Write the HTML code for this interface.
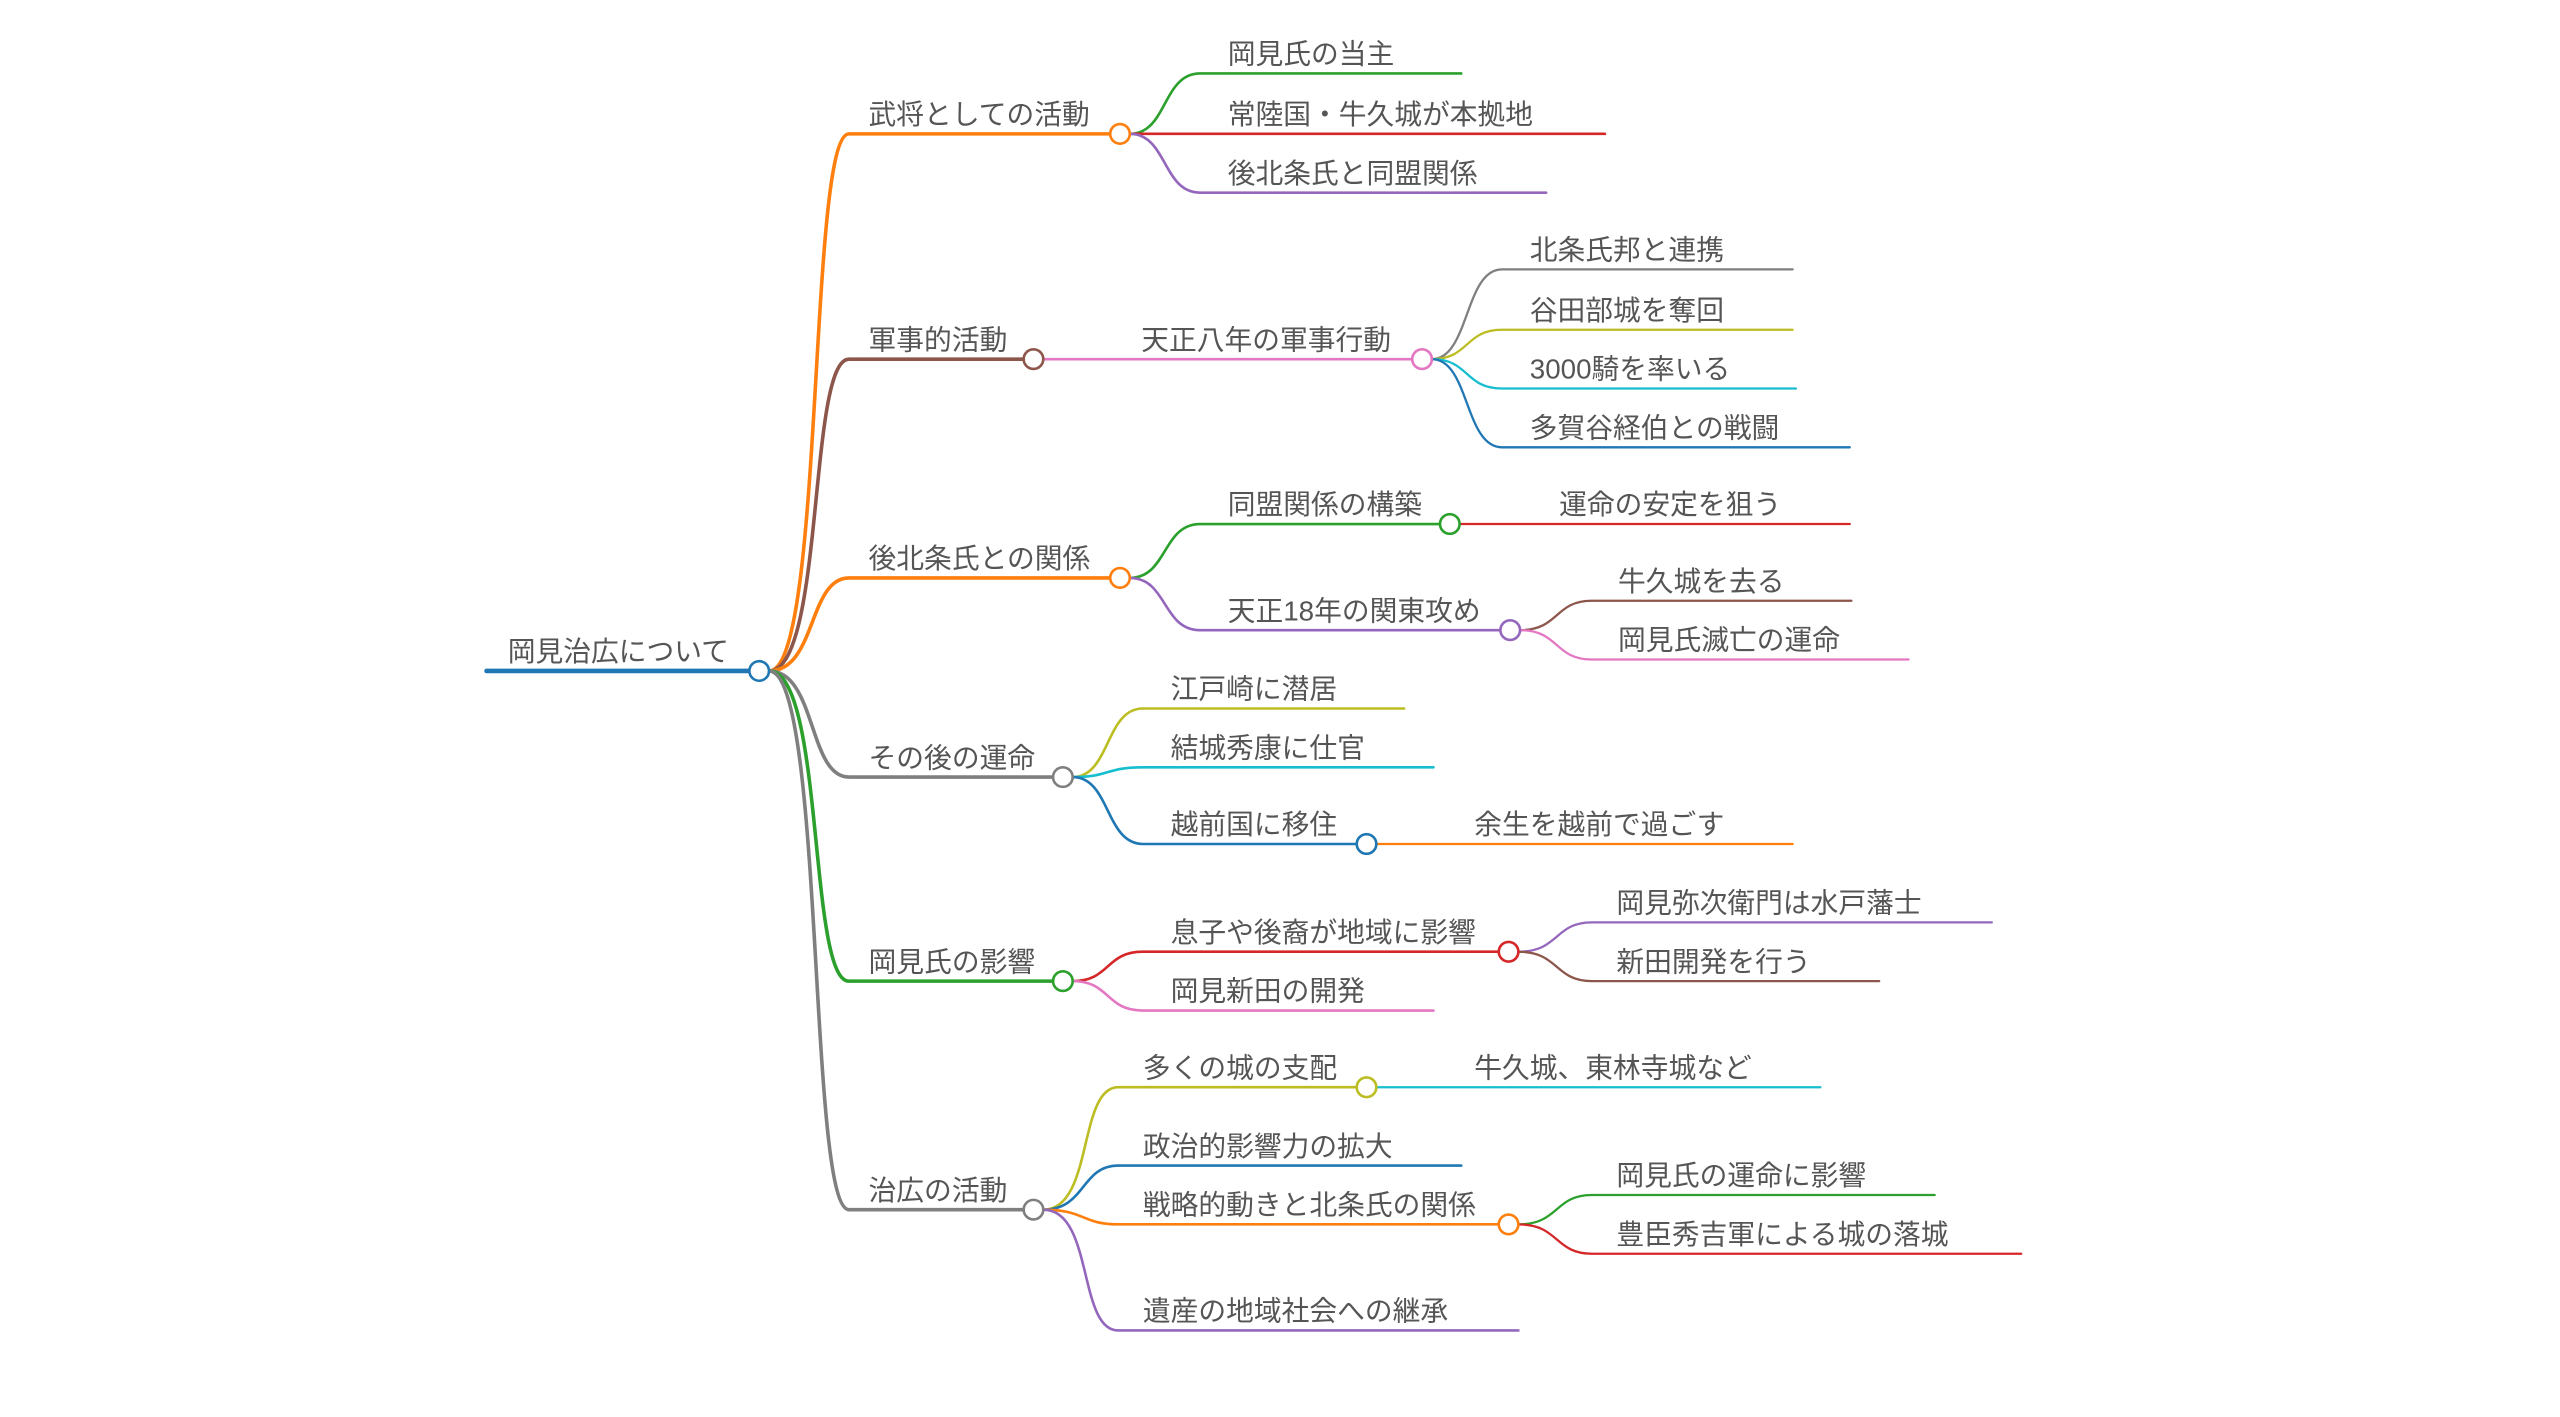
<!DOCTYPE html>
<html><head><meta charset="utf-8"><style>
html,body{margin:0;padding:0;background:#fff;}
svg{display:block;}
text{font-family:"Liberation Sans","Noto Sans CJK JP",sans-serif;font-size:17px;fill:#555;}
</style></head><body>
<svg width="2560" height="1417" viewBox="0 0 1568 868" preserveAspectRatio="none" xmlns="http://www.w3.org/2000/svg">
<g fill="none" stroke-linecap="round">
<!-- root -->
<path d="M298,411 L459,411" stroke="#1f77b4" stroke-width="2.8"/>
<!-- level 1 -->
<path d="M471,411 C505,411 495,82 520,82 L680,82" stroke="#ff7f0e" stroke-width="2.2"/>
<path d="M471,411 C505,411 495,220 520,220 L627,220" stroke="#8c564b" stroke-width="2.2"/>
<path d="M471,411 C500,411 495,354 520,354 L680,354" stroke="#ff7f0e" stroke-width="2.2"/>
<path d="M471,411 C500,411 495,476 520,476 L645,476" stroke="#7f7f7f" stroke-width="2.2"/>
<path d="M471,411 C505,411 495,601 520,601 L645,601" stroke="#2ca02c" stroke-width="2.2"/>
<path d="M471,411 C505,411 495,741 520,741 L627,741" stroke="#7f7f7f" stroke-width="2.2"/>
<!-- 武将 -->
<path d="M692,82 C715,82 712,45 735,45 L895,45" stroke="#2ca02c" stroke-width="1.6"/>
<path d="M692,82 L983,82" stroke="#d62728" stroke-width="1.6"/>
<path d="M692,82 C715,82 712,118 735,118 L947,118" stroke="#9467bd" stroke-width="1.6"/>
<!-- 軍事 -->
<path d="M639,220 L865,220" stroke="#e377c2" stroke-width="1.6"/>
<path d="M877,220 C900,220 897,165 920,165 L1098,165" stroke="#7f7f7f" stroke-width="1.4"/>
<path d="M877,220 C900,220 897,202 920,202 L1098,202" stroke="#bcbd22" stroke-width="1.4"/>
<path d="M877,220 C900,220 897,238 920,238 L1100,238" stroke="#17becf" stroke-width="1.4"/>
<path d="M877,220 C900,220 897,274 920,274 L1133,274" stroke="#1f77b4" stroke-width="1.4"/>
<!-- 後北条 -->
<path d="M692,354 C715,354 712,321 735,321 L882,321" stroke="#2ca02c" stroke-width="1.6"/>
<path d="M894,321 L1133,321" stroke="#d62728" stroke-width="1.4"/>
<path d="M692,354 C715,354 712,386 735,386 L919,386" stroke="#9467bd" stroke-width="1.6"/>
<path d="M931,386 C955,386 952,368 975,368 L1134,368" stroke="#8c564b" stroke-width="1.4"/>
<path d="M931,386 C955,386 952,404 975,404 L1169,404" stroke="#e377c2" stroke-width="1.4"/>
<!-- その後 -->
<path d="M657,476 C680,476 677,434 700,434 L860,434" stroke="#bcbd22" stroke-width="1.6"/>
<path d="M657,476 C680,476 677,470 700,470 L878,470" stroke="#17becf" stroke-width="1.6"/>
<path d="M657,476 C680,476 677,517 700,517 L831,517" stroke="#1f77b4" stroke-width="1.6"/>
<path d="M843,517 L1098,517" stroke="#ff7f0e" stroke-width="1.4"/>
<!-- 影響 -->
<path d="M657,601 C680,601 677,583 700,583 L918,583" stroke="#d62728" stroke-width="1.6"/>
<path d="M657,601 C680,601 677,619 700,619 L878,619" stroke="#e377c2" stroke-width="1.6"/>
<path d="M930,583 C955,583 952,565 975,565 L1220,565" stroke="#9467bd" stroke-width="1.4"/>
<path d="M930,583 C955,583 952,601 975,601 L1151,601" stroke="#8c564b" stroke-width="1.4"/>
<!-- 治広 -->
<path d="M639,741 C670,741 660,666 685,666 L831,666" stroke="#bcbd22" stroke-width="1.6"/>
<path d="M843,666 L1115,666" stroke="#17becf" stroke-width="1.4"/>
<path d="M639,741 C665,741 662,714 685,714 L895,714" stroke="#1f77b4" stroke-width="1.6"/>
<path d="M639,741 C665,741 662,750 685,750 L918,750" stroke="#ff7f0e" stroke-width="1.6"/>
<path d="M639,741 C670,741 660,815 685,815 L930,815" stroke="#9467bd" stroke-width="1.6"/>
<path d="M930,750 C955,750 952,732 975,732 L1185,732" stroke="#2ca02c" stroke-width="1.4"/>
<path d="M930,750 C955,750 952,768 975,768 L1238,768" stroke="#d62728" stroke-width="1.4"/>
</g>
<g fill="#fff" stroke-width="1.6">
<circle cx="465" cy="411" r="6" stroke="#1f77b4"/>
<circle cx="686" cy="82" r="6" stroke="#ff7f0e"/>
<circle cx="633" cy="220" r="6" stroke="#8c564b"/>
<circle cx="871" cy="220" r="6" stroke="#e377c2"/>
<circle cx="686" cy="354" r="6" stroke="#ff7f0e"/>
<circle cx="888" cy="321" r="6" stroke="#2ca02c"/>
<circle cx="925" cy="386" r="6" stroke="#9467bd"/>
<circle cx="651" cy="476" r="6" stroke="#7f7f7f"/>
<circle cx="837" cy="517" r="6" stroke="#1f77b4"/>
<circle cx="651" cy="601" r="6" stroke="#2ca02c"/>
<circle cx="924" cy="583" r="6" stroke="#d62728"/>
<circle cx="633" cy="741" r="6" stroke="#7f7f7f"/>
<circle cx="837" cy="666" r="6" stroke="#bcbd22"/>
<circle cx="924" cy="750" r="6" stroke="#ff7f0e"/>
</g>
<g>
<text x="311" y="405">岡見治広について</text>
<text x="532" y="76">武将としての活動</text>
<text x="752" y="39">岡見氏の当主</text>
<text x="752" y="76">常陸国・牛久城が本拠地</text>
<text x="752" y="112">後北条氏と同盟関係</text>
<text x="532" y="214">軍事的活動</text>
<text x="699" y="214">天正八年の軍事行動</text>
<text x="937" y="159">北条氏邦と連携</text>
<text x="937" y="196">谷田部城を奪回</text>
<text x="937" y="232">3000騎を率いる</text>
<text x="937" y="268">多賀谷経伯との戦闘</text>
<text x="532" y="348">後北条氏との関係</text>
<text x="752" y="315">同盟関係の構築</text>
<text x="955" y="315">運命の安定を狙う</text>
<text x="752" y="380">天正18年の関東攻め</text>
<text x="991" y="362">牛久城を去る</text>
<text x="991" y="398">岡見氏滅亡の運命</text>
<text x="532" y="470">その後の運命</text>
<text x="717" y="428">江戸崎に潜居</text>
<text x="717" y="464">結城秀康に仕官</text>
<text x="717" y="511">越前国に移住</text>
<text x="903" y="511">余生を越前で過ごす</text>
<text x="532" y="595">岡見氏の影響</text>
<text x="717" y="577">息子や後裔が地域に影響</text>
<text x="717" y="613">岡見新田の開発</text>
<text x="990" y="559">岡見弥次衛門は水戸藩士</text>
<text x="990" y="595">新田開発を行う</text>
<text x="532" y="735">治広の活動</text>
<text x="700" y="660">多くの城の支配</text>
<text x="903" y="660">牛久城、東林寺城など</text>
<text x="700" y="708">政治的影響力の拡大</text>
<text x="700" y="744">戦略的動きと北条氏の関係</text>
<text x="990" y="726">岡見氏の運命に影響</text>
<text x="990" y="762">豊臣秀吉軍による城の落城</text>
<text x="700" y="809">遺産の地域社会への継承</text>
</g>
</svg>
</body></html>
